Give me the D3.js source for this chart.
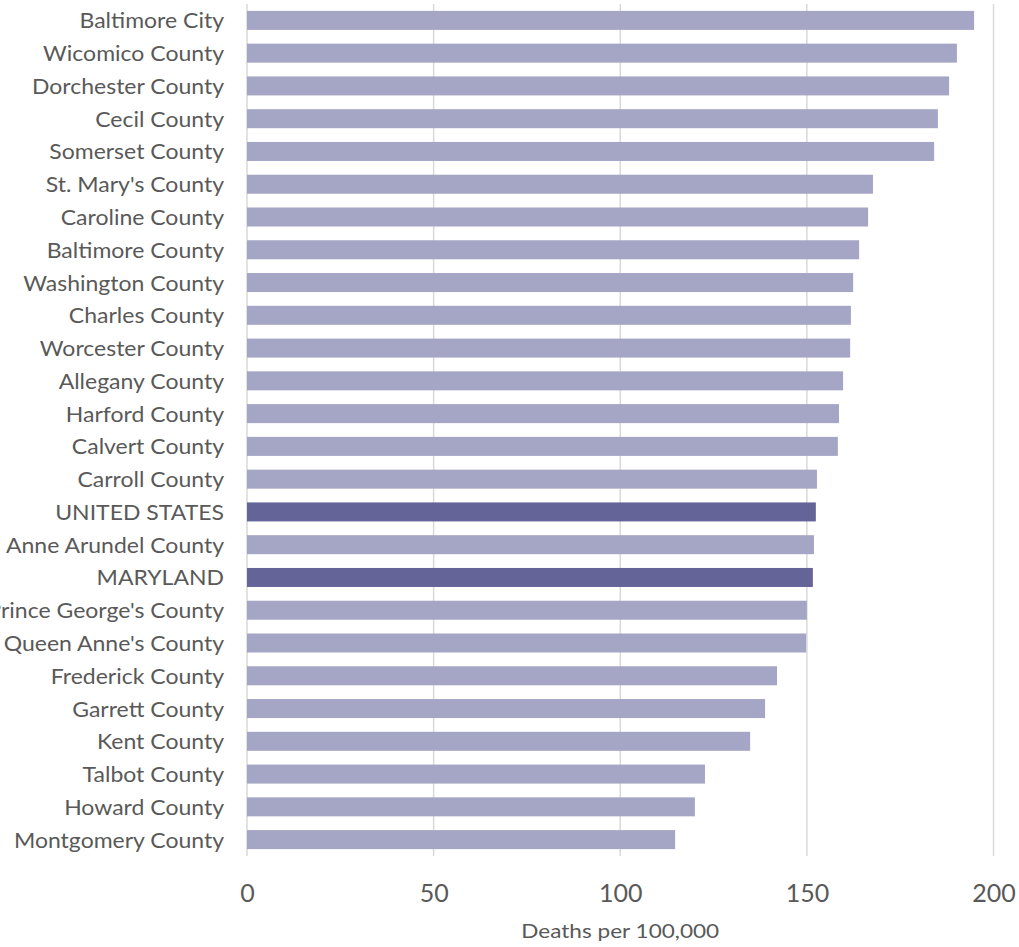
<!DOCTYPE html>
<html>
<head>
<meta charset="utf-8">
<script src="https://cdn.jsdelivr.net/npm/d3@7"></script>
<style>
  html, body { margin: 0; padding: 0; background: #ffffff; }
  svg { display: block; }
  text { font-family: Lato, "Open Sans", sans-serif; fill: #595959; }
</style>
</head>
<body>
<svg id="chart" width="1019" height="947"></svg>
<script>
// Age-adjusted death rates by jurisdiction (deaths per 100,000)
const jurisdictions = [
  "Baltimore City", "Wicomico County", "Dorchester County", "Cecil County",
  "Somerset County", "St. Mary's County", "Caroline County", "Baltimore County",
  "Washington County", "Charles County", "Worcester County", "Allegany County",
  "Harford County", "Calvert County", "Carroll County", "UNITED STATES",
  "Anne Arundel County", "MARYLAND", "Prince George's County", "Queen Anne's County",
  "Frederick County", "Garrett County", "Kent County", "Talbot County",
  "Howard County", "Montgomery County"
];
const rates = [
  194.8, 190.2, 188.1, 185.1,
  184.1, 167.7, 166.4, 164.0,
  162.4, 161.8, 161.6, 159.7,
  158.6, 158.3, 152.7, 152.4,
  151.9, 151.6, 150.0, 149.8,
  142.0, 138.8, 134.8, 122.7,
  120.0, 114.7
];
const benchmarks = ["UNITED STATES", "MARYLAND"];
const xTicks = [0, 50, 100, 150, 200];
const xTitle = "Deaths per 100,000";

const data = jurisdictions.map((name, i) => ({ name, value: rates[i] }));

const svg = d3.select("#chart");
const margin = { top: 4, right: 25.5, bottom: 91, left: 247 };
const width = 1019 - margin.left - margin.right;
const height = 947 - margin.top - margin.bottom;

const x = d3.scaleLinear().domain([0, 200]).range([0, width]);
const y = d3.scaleBand().domain(jurisdictions).range([0, height]).paddingInner(0.42).paddingOuter(0.21);

const g = svg.append("g").attr("transform", `translate(${margin.left},${margin.top})`);

// vertical gridlines
g.append("g")
  .selectAll("line")
  .data(xTicks)
  .join("line")
  .attr("x1", d => x(d)).attr("x2", d => x(d))
  .attr("y1", 0).attr("y2", height)
  .attr("stroke", "#d9d9d9")
  .attr("stroke-width", 1.5);

// bars
g.append("g")
  .selectAll("rect")
  .data(data)
  .join("rect")
  .attr("x", x(0))
  .attr("y", d => y(d.name))
  .attr("width", d => x(d.value) - x(0))
  .attr("height", y.bandwidth())
  .attr("fill", d => benchmarks.includes(d.name) ? "#646498" : "#a5a5c6");

// category labels (slightly widened glyphs)
const yAxis = d3.axisLeft(y).tickSize(0).tickPadding(0);
const yg = g.append("g").call(yAxis);
yg.select(".domain").remove();
yg.selectAll("text")
  .attr("x", 0)
  .attr("dy", "0.38em")
  .attr("transform", "translate(-23,0) scale(1.095,1)")
  .style("font-family", "Lato, 'Open Sans', sans-serif")
  .style("font-size", "21px")
  .attr("fill", "#595959");

// value axis
const xAxis = d3.axisBottom(x).tickValues(xTicks).tickSize(0).tickPadding(0);
const xg = g.append("g").attr("transform", `translate(0,${height})`).call(xAxis);
xg.select(".domain").remove();
xg.selectAll("text")
  .attr("dy", null)
  .attr("y", 46)
  .style("font-family", "Lato, 'Open Sans', sans-serif")
  .style("font-size", "25px")
  .attr("fill", "#595959");

// axis title
svg.append("text")
  .attr("transform", `translate(${margin.left + width / 2},938) scale(1.22,1)`)
  .attr("text-anchor", "middle")
  .style("font-size", "18.5px")
  .text(xTitle);
</script>
</body>
</html>
